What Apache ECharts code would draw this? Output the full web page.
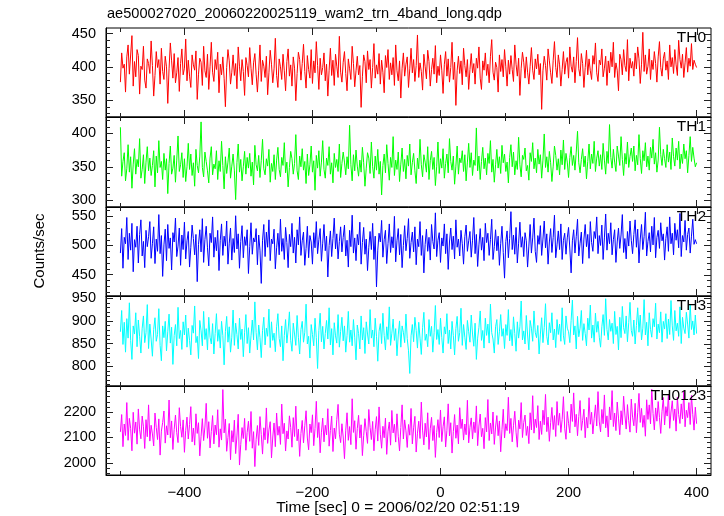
<!DOCTYPE html>
<html><head><meta charset="utf-8">
<script src="https://cdn.jsdelivr.net/npm/echarts@6/dist/echarts.min.js"></script>
<style>html,body{margin:0;padding:0;background:#fff}#c{width:724px;height:516px;background:#fff}</style>
</head><body><div id="c"></div>
<script>
const titleText = "ae500027020_20060220025119_wam2_trn_4band_long.qdp";
const xTitle = "Time [sec] 0 = 2006/02/20 02:51:19";
const yTitle = "Counts/sec";
const panelNames = ["TH0", "TH1", "TH2", "TH3", "TH0123"];
const panelColors = ["#ff0000", "#00ff00", "#0000ff", "#00ffff", "#ff00ff"];
const tStart = -500, tStep = 2;

const th0 = [
377,421,398,404,362,415,433,389,392,447,371,408,385,426,417,359,401,396,431,380,368,412,405,390,439,
402,356,387,423,399,411,374,428,393,381,416,400,345,397,436,409,383,420,376,391,414,363,405,427,388,
398,442,379,410,386,369,418,403,395,424,351,389,413,407,372,431,394,384,419,366,400,437,392,378,411,
396,422,361,404,388,415,383,340,399,426,409,374,392,418,387,405,367,430,401,379,411,393,357,414,402,
385,429,398,373,406,420,389,362,395,433,378,410,401,384,416,358,391,425,404,376,397,443,387,369,412,
400,381,419,394,364,408,427,386,403,371,415,398,349,390,422,411,380,405,434,393,368,417,396,383,426,
375,409,391,438,402,366,413,388,399,421,379,404,356,395,428,387,410,372,419,401,384,446,392,377,407,
423,390,364,412,397,381,431,405,370,394,416,388,402,339,385,418,408,376,424,396,411,368,399,435,383,
403,389,420,374,410,392,361,417,399,426,381,406,388,414,372,433,394,379,409,353,398,421,386,404,415,
369,397,428,391,411,378,402,448,384,406,393,365,419,400,382,425,408,371,396,413,389,432,376,401,387,
418,395,360,404,423,386,412,377,399,437,381,407,342,394,416,390,409,373,428,402,385,411,366,396,420,
391,405,374,413,398,430,383,366,409,395,421,387,404,376,416,441,392,380,407,399,362,418,393,411,385,
426,400,371,410,389,417,396,378,433,404,386,413,357,398,422,407,383,415,392,374,401,429,395,381,412,
397,419,388,405,336,394,416,402,380,427,409,391,375,410,438,399,384,418,403,371,396,423,389,407,414,
383,430,401,392,415,376,408,444,397,386,420,405,369,399,425,388,412,394,381,417,404,436,391,378,410,
403,427,385,398,416,372,409,391,422,400,437,384,406,395,364,419,411,388,426,402,393,441,379,413,398,
408,386,421,397,430,412,375,404,452,393,418,389,401,427,381,410,396,423,405,377,415,438,399,386,412,
422,395,409,381,433,400,414,390,426,403,387,440,411,398,419,384,406,429,392,413,401,435,396,410,404,
399];

const th1 = [
409,336,358,371,329,347,383,342,365,318,354,377,339,361,350,392,333,346,368,325,357,380,344,363,337,
352,374,320,366,341,389,349,358,331,370,345,362,310,355,381,339,348,367,327,360,396,343,353,371,334,
362,328,350,385,346,369,337,356,321,376,352,341,366,417,349,335,372,358,344,326,363,380,338,354,347,
374,331,359,343,388,352,317,365,340,357,378,333,351,369,345,301,356,384,342,361,329,350,373,339,364,
348,370,336,357,323,382,353,344,367,334,359,391,347,338,362,351,376,327,355,343,368,331,360,379,346,
335,364,352,386,341,357,320,349,373,362,339,355,398,344,331,366,350,377,345,358,325,369,337,353,381,
342,359,315,367,348,374,336,357,389,346,333,363,352,380,339,356,326,370,349,361,343,384,334,355,372,
357,338,365,347,412,353,329,368,344,375,351,336,360,342,379,356,321,348,371,363,340,387,350,333,366,
345,376,339,358,308,352,369,341,383,355,330,364,349,395,337,360,346,372,328,354,378,343,361,332,367,
351,384,338,356,370,344,325,363,347,391,353,335,368,357,342,380,331,359,373,346,364,322,350,387,340,
362,348,377,333,355,369,341,392,358,345,366,324,351,381,339,363,356,374,343,368,329,357,385,349,371,
337,360,352,408,344,366,331,358,379,347,363,338,370,355,389,342,361,327,353,376,348,365,340,382,356,
369,343,357,326,364,383,350,372,338,359,346,394,353,335,367,361,378,344,352,330,371,358,386,347,363,
341,376,354,368,333,360,399,349,365,342,373,356,328,351,381,367,345,362,338,375,353,390,346,370,357,
334,364,380,352,367,345,372,403,356,341,361,377,350,366,332,358,384,347,369,355,388,343,363,374,351,
368,346,385,360,339,373,355,413,364,348,376,357,343,381,366,352,395,361,337,370,354,387,349,365,378,
358,381,344,367,353,398,362,340,374,359,386,350,366,345,379,363,391,354,371,342,360,409,368,352,376,
362,349,383,357,372,346,393,365,351,378,360,388,347,369,355,384,362,374,341,367,395,358,379,363,350,
356];

const th2 = [
487,529,461,514,503,548,476,521,492,538,455,510,497,533,470,519,544,482,507,462,526,498,515,541,478,
503,532,469,511,490,553,486,517,447,501,528,474,536,495,513,458,522,506,547,481,499,530,466,518,493,
540,477,508,524,463,497,535,512,484,519,438,502,527,489,546,471,510,533,496,465,521,505,549,480,514,
491,526,457,509,537,483,516,499,542,468,504,530,475,512,488,551,494,520,461,507,534,479,515,500,527,
452,498,539,485,513,506,529,467,518,492,435,509,536,481,523,497,544,474,511,503,528,460,496,521,484,
545,490,512,476,531,505,462,519,498,538,487,514,470,527,501,549,483,508,523,466,495,533,479,517,506,
468,522,496,541,486,510,529,473,504,536,491,516,446,500,525,481,512,547,494,520,477,507,532,489,514,
535,482,509,463,526,498,552,487,513,474,519,501,540,468,505,531,485,511,457,497,524,493,538,476,516,
429,492,521,506,543,480,510,526,469,503,537,488,515,496,550,472,508,529,484,519,462,500,534,491,512,
546,478,505,523,489,532,467,511,498,541,483,517,453,502,528,490,514,475,536,507,494,556,481,509,522,
471,513,499,537,486,520,459,506,530,493,516,477,544,497,511,482,526,503,468,515,535,490,508,524,480,
509,548,486,519,464,501,529,492,514,474,538,505,521,483,510,545,476,498,527,491,516,466,503,533,488,
444,507,525,479,512,558,493,518,485,531,470,504,540,497,515,481,522,508,463,499,536,487,513,547,490,
471,517,502,534,483,511,542,496,520,468,506,529,488,514,552,479,501,525,493,537,476,509,521,485,513,
531,494,453,508,527,487,515,545,482,504,523,469,511,536,498,519,478,541,505,490,524,512,549,486,517,
500,535,476,513,554,492,521,503,539,484,510,527,471,506,530,495,518,553,488,512,477,524,499,542,509,
486,519,544,497,528,470,511,536,493,515,557,482,507,522,489,533,501,548,479,514,526,495,539,508,520,
475,512,532,490,549,503,521,484,538,509,527,496,555,481,517,506,543,492,519,530,487,516,545,502,510,
503];

const th3 = [
876,923,848,897,831,905,862,940,857,815,889,871,918,843,902,866,829,884,911,852,874,936,839,893,860,
822,881,907,855,870,927,846,812,889,863,899,834,876,915,851,886,804,868,892,845,930,861,879,837,898,
869,913,842,884,857,825,890,873,933,852,866,817,901,878,845,921,859,883,836,908,864,849,894,827,872,
916,855,881,840,899,868,803,877,910,853,887,831,864,924,846,895,870,838,906,859,882,821,875,914,850,
885,829,867,902,858,942,874,836,891,863,819,879,908,847,884,866,926,841,898,857,873,832,887,916,861,
843,889,812,868,903,851,880,920,857,833,895,871,846,912,864,827,881,899,853,875,937,849,866,818,892,
870,845,906,863,795,879,917,854,888,838,872,901,860,929,847,883,825,896,867,851,914,842,877,908,856,
889,831,868,921,853,880,845,903,864,814,891,872,838,911,858,885,828,898,871,849,925,862,880,843,906,
866,811,877,894,850,917,868,836,887,859,931,846,873,904,857,883,823,869,900,842,889,875,852,915,861,
834,784,867,892,854,908,879,840,897,862,826,885,919,857,871,843,903,866,888,831,874,934,859,881,848,
906,863,829,887,871,916,850,880,838,899,868,825,883,910,855,874,928,846,892,864,837,901,876,853,913,
871,844,895,815,862,886,922,857,879,840,906,868,893,851,937,874,860,829,887,903,848,876,914,866,883,
839,892,868,925,856,881,845,909,872,833,898,862,887,944,858,878,849,912,869,836,901,884,855,922,875,
863,890,827,871,907,852,885,938,866,847,896,874,918,858,882,841,903,870,893,855,929,867,848,911,884,
876,852,901,946,869,889,838,910,865,884,923,857,894,872,845,906,880,935,862,891,853,917,875,899,864,
842,887,914,868,949,881,858,903,877,895,850,921,870,888,836,908,863,932,885,872,911,854,896,941,879,
866,902,849,890,929,875,913,858,884,947,869,897,845,918,881,864,905,887,939,860,893,874,920,853,899,
882,916,861,904,870,945,889,857,923,878,895,866,931,850,908,884,872,919,893,862,937,881,900,869,913,
872];

const th0123 = [
2121,2189,2063,2152,2107,2236,2088,2174,2135,2047,2198,2116,2160,2073,2211,2129,2094,2183,2141,2056,2169,2102,2227,2085,2147,
2113,2066,2195,2138,2091,2172,2030,2124,2158,2203,2077,2145,2109,2246,2098,2164,2052,2131,2187,2118,2079,2216,2142,2100,2168,
2041,2127,2179,2093,2150,2220,2082,2136,2069,2192,2115,2157,2027,2104,2173,2087,2140,2233,2096,2161,2058,2123,2185,2074,2148,
2110,2208,2061,2133,2089,2287,2117,2171,2045,2099,2154,2012,2126,2081,2167,2036,2105,2190,1991,2072,2138,2095,2174,2049,2119,
2163,2084,2201,2057,2122,1985,2092,2146,2068,2181,2111,2034,2137,2090,2215,2076,2129,2161,2019,2101,2156,2063,2195,2108,2143,
2072,2230,2114,2155,2046,2125,2093,2184,2139,2061,2177,2103,2222,2086,2132,2025,2115,2166,2078,2145,2204,2097,2051,2152,2118,
2188,2067,2134,2241,2099,2158,2039,2120,2175,2082,2147,2109,2212,2065,2127,2183,2044,2136,2094,2170,2229,2112,2079,2153,2101,
2016,2128,2196,2088,2142,2071,2251,2119,2165,2053,2134,2186,2097,2149,2028,2106,2173,2122,2076,2209,2139,2091,2162,2047,2130,
2181,2085,2219,2112,2057,2143,2098,2175,2033,2124,2160,2069,2205,2117,2151,2081,2192,2104,2046,2138,2227,2093,2168,2125,2060,
2150,2108,2213,2074,2137,2182,2042,2116,2163,2095,2238,2128,2070,2155,2101,2196,2052,2133,2178,2087,2146,2021,2119,2169,2099,
2207,2083,2141,2180,2062,2127,2231,2105,2157,2038,2122,2189,2096,2148,2074,2216,2134,2171,2089,2152,2110,2245,2078,2139,2176,
2093,2160,2118,2223,2067,2144,2191,2102,2135,2055,2177,2121,2248,2087,2156,2113,2199,2072,2140,2185,2106,2164,2043,2130,2210,
2097,2153,2126,2257,2115,2174,2082,2145,2202,2120,2061,2167,2133,2236,2099,2158,2187,2107,2143,2075,2196,2129,2263,2116,2171,
2138,2224,2091,2163,2111,2206,2149,2268,2122,2179,2084,2157,2217,2130,2185,2103,2240,2147,2194,2119,2170,2259,2135,2092,2201,
2155,2117,2230,2162,2274,2141,2190,2106,2182,2244,2127,2166,2210,2098,2178,2136,2255,2151,2198,2113,2173,2227,2144,2279,2160,
2121,2209,2153,2266,2137,2184,2101,2219,2168,2283,2142,2195,2126,2238,2175,2110,2204,2149,2261,2187,2132,2228,2165,2120,2250,
2179,2145,2233,2118,2196,2272,2158,2213,2139,2186,2104,2247,2170,2227,2152,2288,2193,2129,2215,2163,2240,2177,2115,2202,2256,
2148,2220,2183,2269,2135,2199,2243,2166,2211,2124,2258,2189,2154,2231,2172,2281,2141,2206,2177,2236,2150,2264,2190,2128,2218,
2153];

const xRange = [-522.5, 422.5];
const xMajorTicks = [-400, -200, 0, 200, 400];
const xMinorTicks = [-500, -300, -100, 100, 300];
const yRanges = [[324.5, 458.5], [290, 424.3], [413.4, 566], [756.3, 955], [1952, 2301]];
const yMajorTicks = [[350, 400, 450], [300, 350, 400], [450, 500, 550], [800, 850, 900, 950], [2000, 2100, 2200]];
const yMinorTicks = [
  [330, 340, 360, 370, 380, 390, 410, 420, 430, 440],
  [310, 320, 330, 340, 360, 370, 380, 390, 410, 420],
  [420, 430, 440, 460, 470, 480, 490, 510, 520, 530, 540, 560],
  [760, 770, 780, 790, 810, 820, 830, 840, 860, 870, 880, 890, 910, 920, 930, 940],
  [1960, 1980, 2020, 2040, 2060, 2080, 2120, 2140, 2160, 2180, 2220, 2240, 2260, 2280]
];
const seriesValues = [th0, th1, th2, th3, th0123];

const FONT = "'Liberation Sans', Helvetica, Arial, sans-serif";
const panelTops = [28, 117, 207, 296, 386];
const panelHeights = [89, 90, 89, 90, 89];
const LEFT = 106, WIDTH = 605;
const tickColor = '#222';
const MAJ = 7, MIN = 4;

function renderTick(params, api) {
  const p = api.coord([api.value(0), api.value(1)]);
  const kind = api.value(2), len = api.value(3);
  const cs = params.coordSys;
  const px = Math.round(p[0]) + 0.5, py = Math.round(p[1]) + 0.5;
  const bx = cs.x, by = cs.y, br = cs.x + cs.width, bb = cs.y + cs.height;
  let shape;
  if (kind === 0) shape = {x1: px, y1: bb, x2: px, y2: bb - len};
  else if (kind === 1) shape = {x1: px, y1: by, x2: px, y2: by + len};
  else if (kind === 2) shape = {x1: bx, y1: py, x2: bx + len, y2: py};
  else shape = {x1: br, y1: py, x2: br - len, y2: py};
  return {type: 'line', shape: shape, style: {stroke: tickColor, lineWidth: 1}, z2: 10};
}

const grids = [], xAxes = [], yAxes = [], series = [], graphics = [];
for (let i = 0; i < 5; i++) {
  const top = panelTops[i];
  grids.push({left: LEFT, top: top, width: WIDTH, height: panelHeights[i], show: true, borderColor: '#000', borderWidth: 1});
  const isBottom = i === 4;
  xAxes.push({
    type: 'value', gridIndex: i, min: xRange[0], max: xRange[1],
    axisLine: {show: true, onZero: false, lineStyle: {color: '#000'}}, splitLine: {show: false},
    axisTick: {show: true, inside: true, length: MAJ, customValues: xMajorTicks, lineStyle: {color: tickColor}},
    axisLabel: isBottom ? {show: true, customValues: xMajorTicks, margin: 10, fontSize: 15, color: '#000', fontFamily: FONT,
      formatter: v => String(v).replace('-', '\u2212')} : {show: false}
  });
  yAxes.push({
    type: 'value', gridIndex: i, min: yRanges[i][0], max: yRanges[i][1],
    axisLine: {show: true, onZero: false, lineStyle: {color: '#000'}}, splitLine: {show: false},
    axisTick: {show: true, inside: true, length: MAJ, customValues: yMajorTicks[i], lineStyle: {color: tickColor}},
    axisLabel: {show: true, customValues: yMajorTicks[i], margin: 10, fontSize: 14.5, color: '#000', fontFamily: FONT,
      formatter: v => String(v)}
  });
  series.push({
    type: 'line', xAxisIndex: i, yAxisIndex: i, name: panelNames[i],
    data: seriesValues[i].map((v, k) => [tStart + k * tStep, v]),
    showSymbol: false, symbol: 'none', lineStyle: {color: panelColors[i], width: 1}, itemStyle: {color: panelColors[i]},
    animation: false
  });
  const ticks = [];
  const y0 = yRanges[i][0], x0 = xRange[0];
  xMajorTicks.forEach(v => { ticks.push([v, y0, 1, MAJ]); });
  xMinorTicks.forEach(v => { ticks.push([v, y0, 0, MIN]); ticks.push([v, y0, 1, MIN]); });
  yMajorTicks[i].forEach(v => { ticks.push([x0, v, 3, MAJ]); });
  yMinorTicks[i].forEach(v => { ticks.push([x0, v, 2, MIN]); ticks.push([x0, v, 3, MIN]); });
  series.push({
    type: 'custom', xAxisIndex: i, yAxisIndex: i, data: ticks, renderItem: renderTick,
    dimensions: ['x', 'y', 'kind', 'len'], encode: {x: 0, y: 1}, clip: false, animation: false, z: 10
  });
  graphics.push({type: 'text', x: 706, y: top + 10, z: 100,
    style: {text: panelNames[i], font: '15.5px ' + FONT, fill: '#000', textAlign: 'right', textVerticalAlign: 'middle'}});
}
graphics.push({type: 'text', x: 107, y: 14, style: {text: titleText, font: '14.6px ' + FONT, fill: '#000', textAlign: 'left', textVerticalAlign: 'middle'}});
graphics.push({type: 'text', x: 398, y: 508, style: {text: xTitle, font: '15.5px ' + FONT, fill: '#000', textAlign: 'center', textVerticalAlign: 'middle'}});
graphics.push({type: 'text', x: 40, y: 251, rotation: Math.PI / 2, style: {text: yTitle, font: '15px ' + FONT, fill: '#000', textAlign: 'center', textVerticalAlign: 'middle'}});

const chart = echarts.init(document.getElementById('c'));
chart.setOption({
  animation: false,
  grid: grids, xAxis: xAxes, yAxis: yAxes, series: series, graphic: graphics
});
</script></body></html>
